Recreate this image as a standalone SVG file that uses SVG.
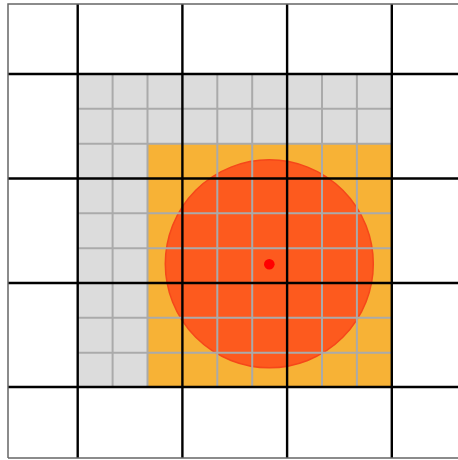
<svg xmlns="http://www.w3.org/2000/svg" width="458" height="460" viewBox="0 0 458 460">
<style>
.fine{stroke:#aaaaaa;stroke-width:2;fill:none}
.major{stroke:#000000;stroke-width:2.4;fill:none}
.border{stroke:#666666;stroke-width:1.5;fill:none}
</style>
<rect x="0" y="0" width="458" height="460" fill="#ffffff"/>
<g id="gray-region">
<rect x="77.7" y="74" width="314.1" height="70" fill="#dcdcdc"/>
<rect x="77.7" y="144" width="70" height="243" fill="#dcdcdc"/>
</g>
<g id="orange-region">
<rect x="147.7" y="144" width="244.1" height="243" fill="#f7b236"/>
</g>
<g id="circle">
<circle cx="269.3" cy="263.8" r="104" fill="#fd5a1e" stroke="#f5471a" stroke-width="1.5"/>
</g>
<g id="fine-grid" class="fine">
<path d="M112.6 74V387M147.5 74V387M217.3 74V387M252.2 74V387M322 74V387M356.9 74V387"/>
<path d="M77.7 108.8H391.8M77.7 143.7H391.8M77.7 213.3H391.8M77.7 248.2H391.8M77.7 317.8H391.8M77.7 352.7H391.8"/>
</g>
<g id="major-grid" class="major">
<path d="M77.7 4V458M182.4 4V458M287.1 4V458M391.8 4V458"/>
<path d="M8 74H458M8 178.5H458M8 283H458M8 387H458"/>
</g>
<g id="border" class="border">
<path d="M8 458V4H458M8 458H458"/>
</g>
<g id="center-dot">
<circle cx="269.3" cy="264.3" r="5.3" fill="#ff0000"/>
</g>
</svg>
